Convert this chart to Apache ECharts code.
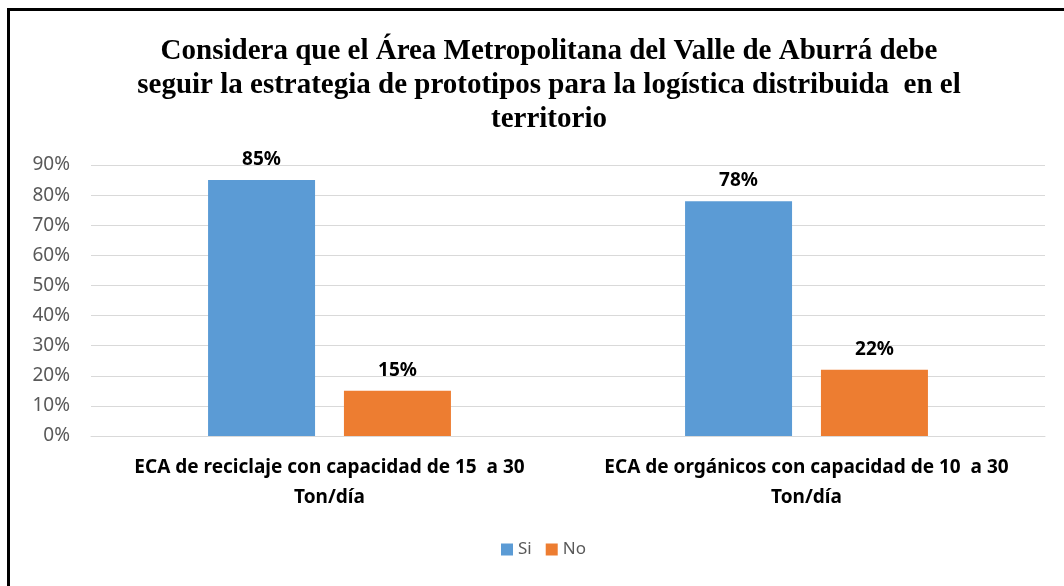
<!DOCTYPE html>
<html>
<head>
<meta charset="utf-8">
<script src="https://cdn.jsdelivr.net/npm/echarts@6/dist/echarts.min.js"></script>
<style>
  html, body { margin: 0; padding: 0; background: #fff; }
  #chart { width: 1064px; height: 586px; }
</style>
</head>
<body>
<div id="chart"></div>
<script>
// categories and values
var categories = [
  "ECA de reciclaje con capacidad de 15  a 30\nTon/día",
  "ECA de orgánicos con capacidad de 10  a 30\nTon/día"
];
var siValues = [85, 78];
var noValues = [15, 22];
var yTicks = [0, 10, 20, 30, 40, 50, 60, 70, 80, 90];

var chart = echarts.init(document.getElementById("chart"));

var labelStyle = {
  show: true,
  position: "top",
  distance: 11,
  formatter: "{c}%",
  color: "#000",
  fontWeight: "bold",
  fontSize: 19,
  fontFamily: "Noto Sans"
};

var option = {
  animation: false,
  title: {
    text: "Considera que el Área Metropolitana del Valle de Aburrá debe\nseguir la estrategia de prototipos para la logística distribuida  en el\nterritorio",
    left: 544,
    top: 30,
    textAlign: "center",
    textStyle: {
      fontFamily: "Liberation Serif",
      fontWeight: "bold",
      fontSize: 29,
      lineHeight: 34,
      color: "#000"
    }
  },
  legend: {
    data: ["Si", "No"],
    bottom: 23,
    left: 496,
    itemWidth: 12,
    itemHeight: 12,
    itemGap: 14,
    icon: "rect",
    textStyle: { color: "#595959", fontSize: 17, fontFamily: "Noto Sans" }
  },
  grid: {
    left: 91,
    right: 19,
    top: 165,
    height: 271
  },
  xAxis: {
    type: "category",
    data: categories,
    axisLine: { lineStyle: { color: "#d9d9d9" } },
    axisTick: { show: false },
    axisLabel: {
      interval: 0,
      hideOverlap: false,
      color: "#000",
      fontWeight: "bold",
      fontSize: 19,
      fontFamily: "Noto Sans",
      lineHeight: 30,
      margin: 17
    }
  },
  yAxis: {
    type: "value",
    min: 0,
    max: 90,
    interval: 10,
    axisLine: { show: false },
    axisTick: { show: false },
    splitLine: { lineStyle: { color: "#d9d9d9" } },
    axisLabel: {
      color: "#595959",
      fontSize: 19,
      fontFamily: "Noto Sans",
      margin: 21,
      formatter: function (v) { return yTicks.indexOf(v) >= 0 ? v + "%" : ""; }
    }
  },
  series: [
    {
      name: "Si",
      type: "bar",
      data: siValues,
      barWidth: 107,
      barGap: "27%",
      itemStyle: { color: "#5b9bd5" },
      label: labelStyle
    },
    {
      name: "No",
      type: "bar",
      data: noValues,
      barWidth: 107,
      itemStyle: { color: "#ed7d31" },
      label: labelStyle
    }
  ],
  graphic: [
    { type: "rect", shape: { x: 7, y: 8, width: 1064, height: 3 }, style: { fill: "#000" } },
    { type: "rect", shape: { x: 7, y: 8, width: 3, height: 586 }, style: { fill: "#000" } }
  ]
};

chart.setOption(option);
</script>
</body>
</html>
